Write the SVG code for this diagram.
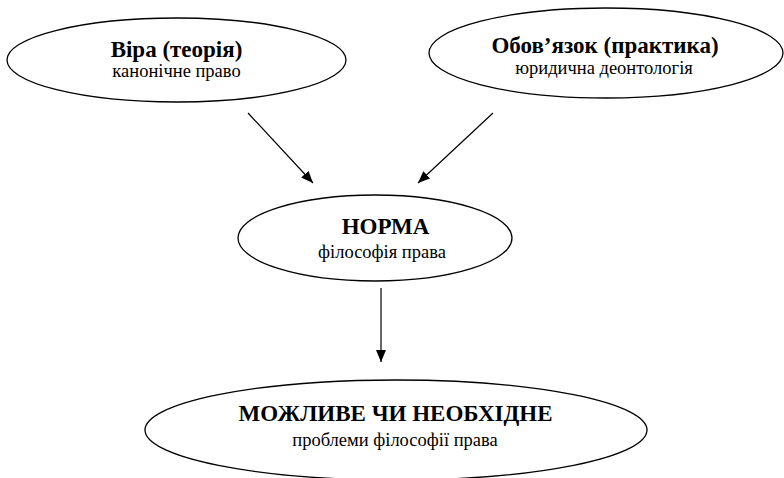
<svg xmlns="http://www.w3.org/2000/svg" width="784" height="478" viewBox="0 0 784 478">
<defs>
<marker id="ah" viewBox="0 0 12 10" refX="12" refY="5" markerWidth="12" markerHeight="10" markerUnits="userSpaceOnUse" orient="auto">
<path d="M0,0 L12,5 L0,10 Z" fill="#000"/>
</marker>
</defs>
<rect width="784" height="478" fill="#fff"/>
<g fill="#fff" stroke="#000" stroke-width="1.3">
<g id="n1">
<ellipse cx="176.5" cy="60" rx="169.5" ry="42"/>
</g>
<g id="n2">
<ellipse cx="606" cy="53" rx="177" ry="45"/>
</g>
<g id="n3">
<ellipse cx="375" cy="238" rx="137" ry="43"/>
</g>
<g id="n4">
<ellipse cx="396" cy="430" rx="251" ry="50"/>
</g>
</g>
<g font-family="Liberation Serif" text-anchor="middle" fill="#000">
<g font-weight="bold" font-size="23">
<text x="176.5" y="57">Віра (теорія)</text>
<text x="605" y="53">Обов’язок (практика)</text>
<text x="385.5" y="234">НОРМА</text>
<text x="395.5" y="421">МОЖЛИВЕ ЧИ НЕОБХІДНЕ</text>
</g>
<g font-size="18.5">
<text x="176.5" y="77">канонічне право</text>
<text x="604" y="74">юридична деонтологія</text>
<text x="382" y="258">філософія права</text>
<text x="395" y="446">проблеми філософії права</text>
</g>
</g>
<g id="connectors" stroke="#000" stroke-width="1.2">
<line x1="248" y1="113" x2="313" y2="183" marker-end="url(#ah)"/>
<line x1="493" y1="113" x2="418" y2="183" marker-end="url(#ah)"/>
<line x1="381" y1="288" x2="381" y2="362" marker-end="url(#ah)"/>
</g>
</svg>
